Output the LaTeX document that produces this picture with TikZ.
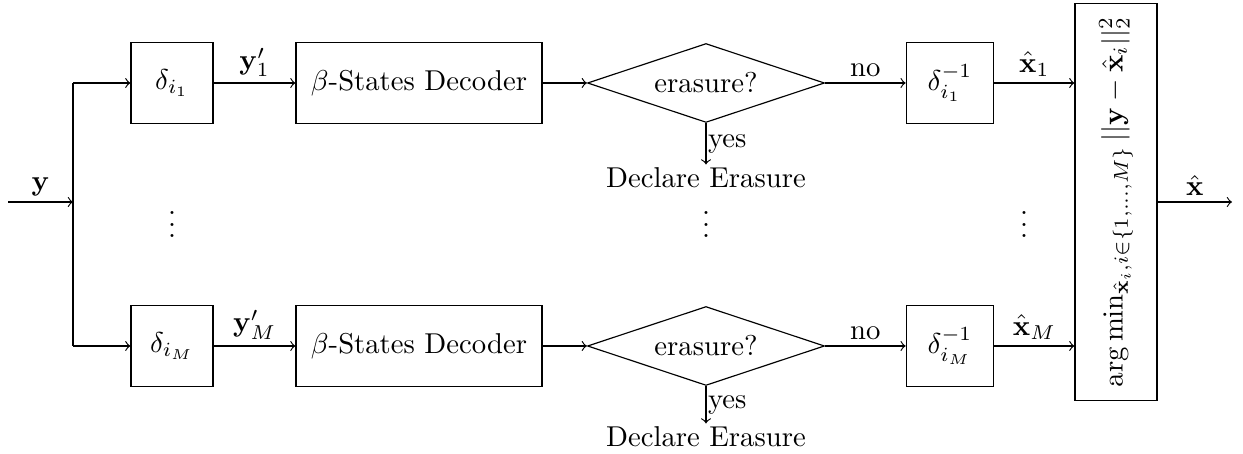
\documentclass[tikz,border=0pt]{standalone}
\usepackage{amsmath,amssymb}
\usepackage{graphicx}
\usetikzlibrary{shapes.geometric,calc}
\tikzset{
  blk/.style={draw, minimum height=28pt, inner sep=1pt},
  dbox/.style={blk, minimum width=28.6pt},
  ibox/.style={blk, minimum width=30.5pt},
  decbox/.style={blk, minimum width=85.7pt},
  dec/.style={draw, diamond, aspect=3, inner sep=2pt, minimum width=82.6pt, minimum height=27.5pt},
  lbl/.style={inner sep=2pt},
  arr/.style={->},
  dots/.style={inner sep=0pt},
}
\begin{document}
\begin{tikzpicture}[x=0.3484pt, y=-0.3484pt]
\useasboundingbox (0,0) rectangle (1243,454);
% nodes
\coordinate (in) at (8,202);
\coordinate (sp) at (73,202);
\coordinate (sp1) at (73,83);
\coordinate (spM) at (73,346);
\node[dbox] (d1) at (172,83) {$\delta_{i_1}$};
\node[dbox] (dM) at (172,346) {$\delta_{i_M}$};
\node[decbox] (b1) at (419,83) {$\beta$-States Decoder};
\node[decbox] (bM) at (419,346) {$\beta$-States Decoder};
\node[dec] (c1) at (706,83) {erasure?};
\node[dec] (cM) at (706,346) {erasure?};
\node[inner sep=1pt] (e1) at (706,178) {Declare Erasure};
\node[inner sep=1pt] (eM) at (706,437) {Declare Erasure};
\node[ibox] (i1) at (950,83) {$\delta_{i_1}^{-1}$};
\node[ibox] (iM) at (950,346) {$\delta_{i_M}^{-1}$};
\node[draw, minimum width=28.6pt, minimum height=138.6pt, inner sep=1pt] (am) at (1116,202)
  {\rotatebox{90}{$\arg\min_{\hat{\mathbf{x}}_i, i\in\{1,\dots,M\}} ||\mathbf{y}-\hat{\mathbf{x}}_i||_2^2$}};
\coordinate (out) at (1232,202);
\node[dots] (v1) at (172,216) {$\vdots$};
\node[dots] (v2) at (706,216) {$\vdots$};
\node[dots] (v3) at (1024,216) {$\vdots$};
% connectors
\draw[arr] (in) -- node[above, lbl] {$\mathbf{y}$} (sp);
\draw (sp1) -- (spM);
\draw[arr] (sp1) -- (d1.west);
\draw[arr] (spM) -- (dM.west);
\draw[arr] (d1.east) -- node[above, lbl] {$\mathbf{y}'_1$} (b1.west);
\draw[arr] (dM.east) -- node[above, lbl] {$\mathbf{y}'_M$} (bM.west);
\draw[arr] (b1.east) -- (c1.west);
\draw[arr] (bM.east) -- (cM.west);
\draw[arr] (c1.east) -- node[above, lbl] {no} (i1.west);
\draw[arr] (cM.east) -- node[above, lbl] {no} (iM.west);
\draw[arr] (c1.south) -- node[right, inner sep=0.5pt] {yes} (e1.north);
\draw[arr] (cM.south) -- node[right, inner sep=0.5pt] {yes} (eM.north);
\draw[arr] (i1.east) -- node[above, lbl] {$\hat{\mathbf{x}}_1$} (i1.east -| am.west);
\draw[arr] (iM.east) -- node[above, lbl] {$\hat{\mathbf{x}}_M$} (iM.east -| am.west);
\draw[arr] (am.east |- out) -- node[above, lbl] {$\hat{\mathbf{x}}$} (out);
\end{tikzpicture}
\end{document}
